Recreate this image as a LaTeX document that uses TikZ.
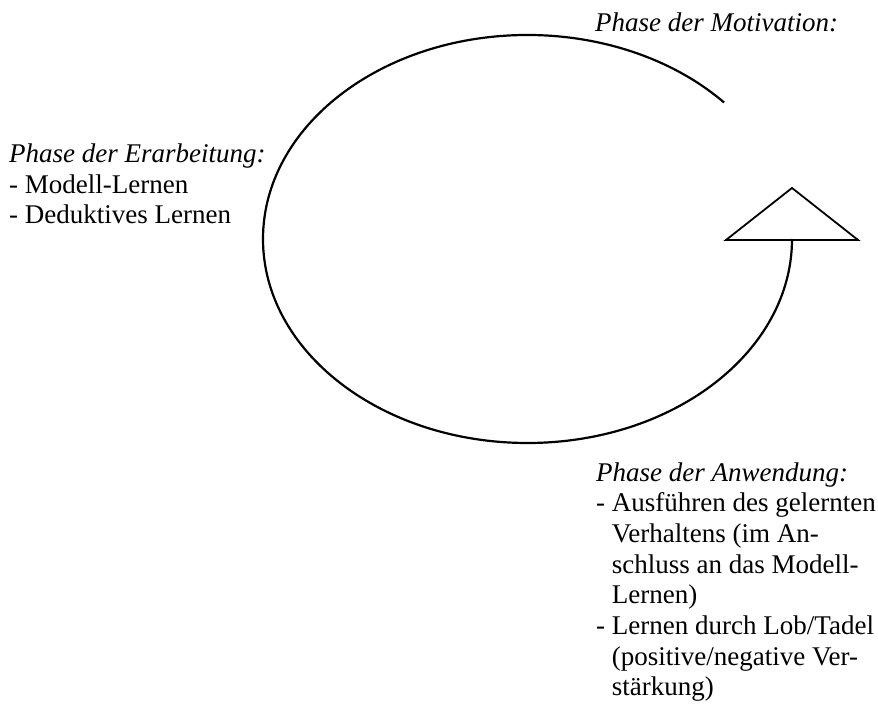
\documentclass[tikz,border=0pt]{standalone}
\usepackage{fontspec}
\setmainfont{Liberation Serif}
\usepackage{tikz}
\newcommand{\einzug}{\hphantom{-\ }}
\tikzset{
  phase/.style={anchor=base west, inner sep=0pt, align=left,
    font=\fontsize{27}{30.7}\selectfont},
  kreis/.style={line width=2.2pt},
  spitze/.style={line width=1.8pt, line join=miter}
}

\begin{document}
\begin{tikzpicture}[x=1pt,y=1pt]
    \useasboundingbox (0,0) rectangle (878,708);
    \coordinate (pfeil) at (792,469);
    \coordinate (links) at (726,468);
    \coordinate (rechts) at (858,468);
    \coordinate (oben) at (792,520);
    \draw[kreis] (pfeil) arc[start angle=0, end angle=-318, x radius=264.5, y radius=204];
    \draw[spitze] (links) -- (oben) -- (rechts) -- cycle;
    \node[phase] (motivation) at (595,676) {\textit{Phase der Motivation:}};
    \node[phase] (erarbeitung) at (9,484) {\textit{Phase der Erarbeitung:}\\
        - Modell-Lernen\\
        - Deduktives Lernen};
    \node[phase] (anwendung) at (596,12) {\textit{Phase der Anwendung:}\\
        - Ausführen des gelernten\\
        \einzug Verhaltens (im An-\\
        \einzug schluss an das Modell-\\
        \einzug Lernen)\\
        - Lernen durch Lob/Tadel\\
        \einzug (positive/negative Ver-\\
        \einzug stärkung)};
\end{tikzpicture}
\end{document}
